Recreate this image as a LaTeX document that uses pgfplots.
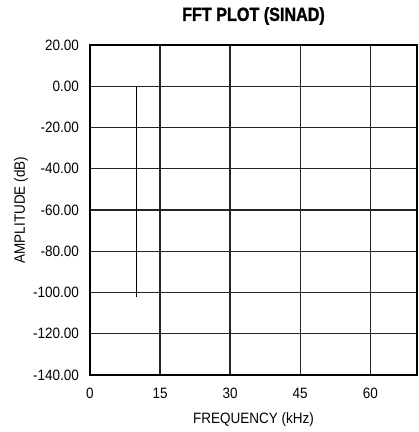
\documentclass[border=0pt]{standalone}
\usepackage{fontspec}
\setmainfont{Liberation Sans}[FakeStretch=0.9]
\newfontfamily\titlefont{Liberation Sans Bold}[FakeStretch=0.85, FakeBold=1.3]
\usepackage{pgfplots}
\pgfplotsset{compat=1.18}
\begin{document}
\begin{tikzpicture}
\begin{axis}[
  scale only axis,
  width=327pt, height=330pt,
  xmin=0, xmax=70, ymin=-140, ymax=20,
  xtick={0,15,30,45,60},
  xticklabels={0,15,30,45,60},
  ytick={-140,-120,-100,-80,-60,-40,-20,0,20},
  yticklabels={-140.00,-120.00,-100.00,-80.00,-60.00,-40.00,-20.00,0.00,20.00},
  grid=major,
  major grid style={line width=1.3pt, black!85},
  axis line style={line width=2.8pt},
  major tick length=0pt,
  tick label style={font=\fontsize{15}{15}\selectfont, inner sep=0pt},
  yticklabel style={anchor=east, xshift=-11pt},
  xticklabel style={anchor=north, yshift=-13pt},
  xlabel={FREQUENCY (kHz)},
  ylabel={AMPLITUDE (dB)},
  label style={font=\fontsize{15}{15}\selectfont, inner sep=0pt},
  xlabel style={at={(axis description cs:0.5,0)}, anchor=center, yshift=-45pt},
  ylabel style={at={(axis description cs:-0.211,0.5)}, anchor=center},
  title={FFT PLOT (SINAD)},
  title style={font=\titlefont\fontsize{19}{19}\selectfont, inner sep=0pt,
    at={(axis description cs:0.5,1)}, anchor=center, yshift=23pt},
]
\addplot[black, line width=1pt] coordinates {(9.9,0) (9.9,-102)};
\end{axis}
\pgfresetboundingbox
\path[use as bounding box] (-90pt,-57pt) rectangle (329pt,375pt);
\end{tikzpicture}
\end{document}
